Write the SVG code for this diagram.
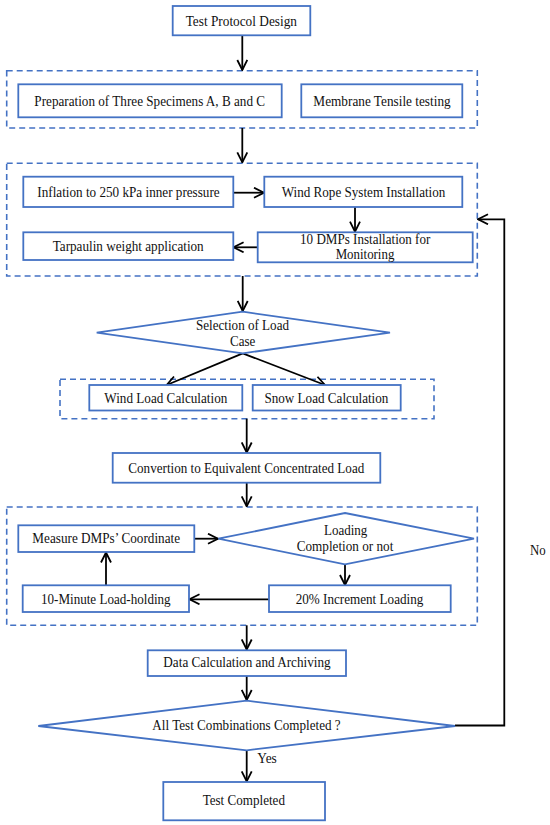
<svg xmlns="http://www.w3.org/2000/svg" width="550" height="825" viewBox="0 0 550 825">
<style>
.box{fill:#fff;stroke:#4472C4;stroke-width:1.8}
.grp{fill:none;stroke:#4472C4;stroke-width:1.6;stroke-dasharray:6 4}
.t{font-family:"Liberation Serif","Times New Roman",serif;font-size:15px;fill:#111;text-anchor:middle}
.c{fill:none;stroke:#000;stroke-width:1.8}
</style>
<defs>
<marker id="a" viewBox="0 0 12 12" refX="11" refY="6" markerWidth="12" markerHeight="12" markerUnits="userSpaceOnUse" orient="auto">
<path d="M1,1 L11,6 L1,11" fill="none" stroke="#000" stroke-width="1.8"/>
</marker>
</defs>
<rect width="550" height="825" fill="#fff"/>
<g id="groups">
<rect class="grp" x="6.7" y="70.7" width="470.6" height="57.3"/>
<rect class="grp" x="6.7" y="163.3" width="470.6" height="112.7"/>
<rect class="grp" x="60" y="379.3" width="374" height="39.4"/>
<rect class="grp" x="6.7" y="507" width="470.6" height="118.3"/>
</g>
<g id="connectors">
<path class="c" d="M242.3,35.3 V70" marker-end="url(#a)"/>
<path class="c" d="M242.3,128 V162.3" marker-end="url(#a)"/>
<path class="c" d="M233.3,192.7 H264" marker-end="url(#a)"/>
<path class="c" d="M355,207 V231.7" marker-end="url(#a)"/>
<path class="c" d="M257.7,247.3 H233.6" marker-end="url(#a)"/>
<path class="c" d="M242.7,276 V311" marker-end="url(#a)"/>
<path class="c" d="M242.7,353.3 L166.7,385" marker-end="url(#a)"/>
<path class="c" d="M242.7,353.3 L325,385" marker-end="url(#a)"/>
<path class="c" d="M246.7,418.7 V452.5" marker-end="url(#a)"/>
<path class="c" d="M246.7,482.7 V506.3" marker-end="url(#a)"/>
<path class="c" d="M194.3,538.7 H218" marker-end="url(#a)"/>
<path class="c" d="M345,564.3 V585" marker-end="url(#a)"/>
<path class="c" d="M269,599.3 H189.5" marker-end="url(#a)"/>
<path class="c" d="M106,585.3 V552.5" marker-end="url(#a)"/>
<path class="c" d="M246.7,625.3 V649.5" marker-end="url(#a)"/>
<path class="c" d="M246.7,676 V700" marker-end="url(#a)"/>
<path class="c" d="M246.7,750.3 V781.3" marker-end="url(#a)"/>
<path class="c" d="M455,725.5 H504.3 V219.3 H478" marker-end="url(#a)"/>
<text class="t" x="537.8" y="554.7" textLength="15.7" lengthAdjust="spacingAndGlyphs">No</text>
<text class="t" x="257.3" y="762.7" style="text-anchor:start" textLength="19.5" lengthAdjust="spacingAndGlyphs">Yes</text>
</g>
<g id="n1"><rect class="box" x="172.7" y="6" width="137.6" height="29.3"/><text class="t" x="241.3" y="26" textLength="111.3" lengthAdjust="spacingAndGlyphs">Test Protocol Design</text></g>
<g id="n2"><rect class="box" x="18.3" y="84.3" width="263.4" height="33"/><text class="t" x="149.7" y="106" textLength="230.7" lengthAdjust="spacingAndGlyphs">Preparation of Three Specimens A, B and C</text></g>
<g id="n3"><rect class="box" x="301.3" y="84.3" width="161" height="33"/><text class="t" x="382" y="106" textLength="137.3" lengthAdjust="spacingAndGlyphs">Membrane Tensile testing</text></g>
<g id="n4"><rect class="box" x="23.3" y="176.7" width="210" height="30.3"/><text class="t" x="128.5" y="196.7" textLength="182.3" lengthAdjust="spacingAndGlyphs">Inflation to 250 kPa inner pressure</text></g>
<g id="n5"><rect class="box" x="264.3" y="176.7" width="198" height="30.3"/><text class="t" x="363.5" y="196.7" textLength="163.7" lengthAdjust="spacingAndGlyphs">Wind Rope System Installation</text></g>
<g id="n6"><rect class="box" x="257.7" y="232.3" width="215" height="30"/><text class="t" x="365.2" y="244.3" textLength="130.3" lengthAdjust="spacingAndGlyphs">10 DMPs Installation for</text><text class="t" x="365" y="259.3" textLength="58.7" lengthAdjust="spacingAndGlyphs">Monitoring</text></g>
<g id="n7"><rect class="box" x="23.3" y="232.3" width="210" height="27.7"/><text class="t" x="128.2" y="250.7" textLength="151" lengthAdjust="spacingAndGlyphs">Tarpaulin weight application</text></g>
<g id="n8"><polygon class="box" points="242.7,311.7 390,332.7 242.7,353.3 96.7,332.7"/><text class="t" x="242.5" y="330" textLength="93" lengthAdjust="spacingAndGlyphs">Selection of Load</text><text class="t" x="242.7" y="345.5" textLength="25.3" lengthAdjust="spacingAndGlyphs">Case</text></g>
<g id="n9"><rect class="box" x="89.3" y="385" width="153" height="25.5"/><text class="t" x="165.8" y="402.7" textLength="123" lengthAdjust="spacingAndGlyphs">Wind Load Calculation</text></g>
<g id="n10"><rect class="box" x="252.7" y="385" width="148" height="25.5"/><text class="t" x="326.4" y="402.7" textLength="124" lengthAdjust="spacingAndGlyphs">Snow Load Calculation</text></g>
<g id="n11"><rect class="box" x="112.7" y="453" width="267.6" height="29.7"/><text class="t" x="246.3" y="472.7" textLength="236" lengthAdjust="spacingAndGlyphs">Convertion to Equivalent Concentrated Load</text></g>
<g id="n12"><rect class="box" x="18.3" y="525.3" width="176" height="26.7"/><text class="t" x="106.2" y="542.7" textLength="147.7" lengthAdjust="spacingAndGlyphs">Measure DMPs’ Coordinate</text></g>
<g id="n13"><polygon class="box" points="345,513 474,538.7 345,564.3 218.3,538.7"/><text class="t" x="345.7" y="535.3" textLength="43.3" lengthAdjust="spacingAndGlyphs">Loading</text><text class="t" x="345" y="550.7" textLength="96.7" lengthAdjust="spacingAndGlyphs">Completion or not</text></g>
<g id="n14"><rect class="box" x="269" y="585.3" width="181.7" height="26.7"/><text class="t" x="359.5" y="603.7" textLength="127.7" lengthAdjust="spacingAndGlyphs">20% Increment Loading</text></g>
<g id="n15"><rect class="box" x="22.7" y="585.3" width="166.3" height="26.7"/><text class="t" x="105.8" y="603.7" textLength="129.7" lengthAdjust="spacingAndGlyphs">10-Minute Load-holding</text></g>
<g id="n16"><rect class="box" x="147.7" y="650.3" width="198.3" height="25.7"/><text class="t" x="247" y="667" textLength="167.3" lengthAdjust="spacingAndGlyphs">Data Calculation and Archiving</text></g>
<g id="n17"><polygon class="box" points="246.7,700.7 455,726 246.7,750.3 38.3,726"/><text class="t" x="246.5" y="730.3" textLength="188.3" lengthAdjust="spacingAndGlyphs">All Test Combinations Completed ?</text></g>
<g id="n18"><rect class="box" x="163.3" y="782" width="161.7" height="38.3"/><text class="t" x="243.8" y="805.3" textLength="82.3" lengthAdjust="spacingAndGlyphs">Test Completed</text></g>
</svg>
